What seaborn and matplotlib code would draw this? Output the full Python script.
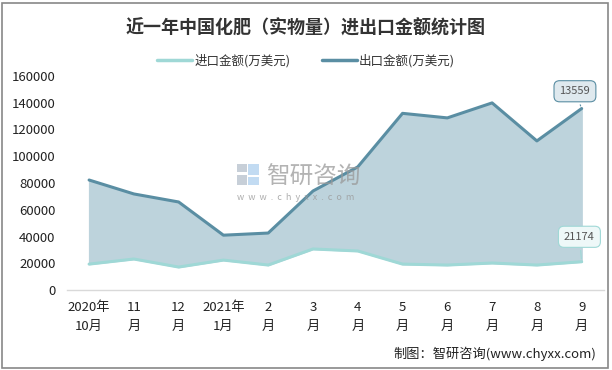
import numpy as np
import pandas as pd
import seaborn as sns
import matplotlib.pyplot as plt
from matplotlib.patches import Rectangle
from matplotlib.lines import Line2D

# data
months = ['2020年\n10月', '11\n月', '12\n月', '2021年\n1月', '2\n月', '3\n月', '4\n月',
          '5\n月', '6\n月', '7\n月', '8\n月', '9\n月']
import_amt = [19400, 23200, 17200, 22400, 18700, 30700, 29200, 19400, 18700, 20200, 18700, 21174]
export_amt = [82200, 71800, 65800, 41000, 42600, 74000, 92000, 132000, 128600, 139800, 111400, 135590]
yticks = [0, 20000, 40000, 60000, 80000, 100000, 120000, 140000, 160000]

sns.set_theme(style='white')
plt.rcParams['font.family'] = ['Noto Sans CJK SC', 'DejaVu Sans']

df = pd.DataFrame({'x': range(len(months)), '进口金额(万美元)': import_amt, '出口金额(万美元)': export_amt})
long_df = df.melt(id_vars='x', var_name='类型', value_name='金额')

c_imp = '#9fd8d6'
c_exp = '#5a8ea3'

fig = plt.figure(figsize=(6.12, 3.70), dpi=100)
ax = fig.add_axes([0.109, 0.216, 0.878, 0.579])

ax.fill_between(df['x'], df['进口金额(万美元)'], df['出口金额(万美元)'], color='#bdd3dc', zorder=1)
sns.lineplot(data=long_df, x='x', y='金额', hue='类型', palette=[c_imp, c_exp],
             linewidth=2.2, ax=ax, legend=False, zorder=3)

ax.set_xlim(-0.5, len(months) - 0.5)
ax.set_ylim(0, 160000)
ax.set_yticks(yticks)
ax.set_yticklabels([str(v) for v in yticks], fontsize=9.5, color='#222222')
ax.set_xticks(range(len(months)))
ax.set_xticklabels(months, fontsize=9.5, color='#222222', linespacing=1.6)
ax.tick_params(axis='both', length=0, pad=8)
ax.set_xlabel('')
ax.set_ylabel('')
for s in ['top', 'right', 'left']:
    ax.spines[s].set_visible(False)
ax.spines['bottom'].set_color('#d9d9d9')
ax.spines['bottom'].set_linewidth(1)

# callouts on last points
n = len(months) - 1
ax.annotate(f'{13559}', xy=(n, export_amt[-1]), xytext=(n - 0.15, 148500),
            fontsize=8, color='#555555', ha='center', va='center',
            bbox=dict(boxstyle='round,pad=0.5', fc='#dfe9ee', ec=c_exp, lw=0.8),
            arrowprops=dict(arrowstyle='-', color=c_exp, lw=0.8))
ax.annotate(f'{import_amt[-1]}', xy=(n, import_amt[-1]), xytext=(n - 0.05, 39800),
            fontsize=8, color='#555555', ha='center', va='center',
            bbox=dict(boxstyle='round,pad=0.5', fc='#eef8f8', ec=c_imp, lw=0.8),
            arrowprops=dict(arrowstyle='-', color=c_imp, lw=0.8))

# watermark
fig.text(0.435, 0.52, '智研咨询', fontsize=17, color='#9a9a9a', alpha=0.75, ha='left', va='center')
fig.text(0.387, 0.467, 'w  w  w  .  c  h  y  x  x  .  c  o  m', fontsize=6.5, color='#9a9a9a',
         alpha=0.8, ha='left', va='center')
for (x0, y0, w, h, c) in [(0.388, 0.535, 0.016, 0.022, '#b9c3cf'), (0.388, 0.5, 0.016, 0.028, '#b9c3cf'),
                          (0.406, 0.5, 0.018, 0.022, '#b3d3ef'), (0.406, 0.528, 0.018, 0.029, '#b3d3ef')]:
    fig.patches.append(Rectangle((x0, y0), w, h, transform=fig.transFigure, fc=c, ec='none', alpha=0.8))

fig.text(0.5, 0.925, '近一年中国化肥（实物量）进出口金额统计图', fontsize=13, fontweight='bold',
         color='#333333', ha='center', va='center')

handles = [Line2D([], [], color=c_imp, lw=2.5), Line2D([], [], color=c_exp, lw=2.5)]
fig.legend(handles, ['进口金额(万美元)', '出口金额(万美元)'], loc='center', bbox_to_anchor=(0.5, 0.837),
           ncol=2, frameon=False, fontsize=9, handlelength=2.8, columnspacing=2.5, handletextpad=0.2,
           labelcolor='#333333')

fig.text(0.975, 0.045, '制图：智研咨询(www.chyxx.com)', fontsize=9.5, color='#222222', ha='right', va='center')

fig.patches.append(Rectangle((0.004, 0.006), 0.99, 0.985, transform=fig.transFigure,
                             fill=False, ec='#888888', lw=1.2))

fig.savefig('out.png', dpi=100)
